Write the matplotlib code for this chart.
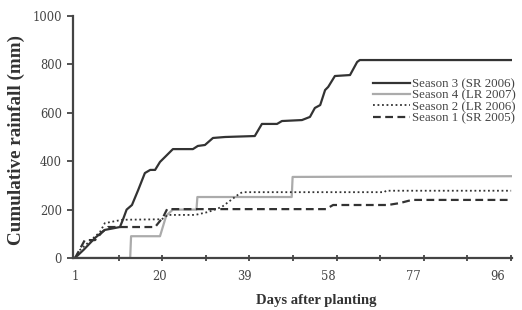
import numpy as np
import matplotlib.pyplot as plt

# breakpoints: (day, cumulative rainfall in mm)
s3_days = [1, 3, 5.5, 7.7, 11.1, 11.8, 12.6, 13.8, 15.2, 16.7, 17.9, 19.0, 20.1, 21.2, 23.0, 27.5,
           28.6, 30.2, 32.0, 34.7, 41.4, 43.0, 46.4, 47.5, 52.0, 53.8, 54.9, 56.1, 57.2,
           57.9, 59.4, 62.8, 64.4, 65.0, 99]
s3_rain = [0, 35, 83, 116, 128, 160, 200, 219, 281, 351, 364, 364, 397, 417, 450, 450,
           463, 467, 496, 500, 504, 554, 554, 566, 570, 583, 620, 632, 694,
           707, 752, 756, 810, 818, 818]

s4_days = [1, 13.4, 13.6, 20.1, 21.5, 23.0, 28.3, 28.5, 49.7, 49.9, 99]
s4_rain = [0, 0, 90, 90, 175, 200, 200, 252, 252, 335, 338]

s2_days = [1, 2.1, 6.6, 7.7, 11.6, 20.5, 21.9, 28.0, 30.9, 34.0, 38.1, 38.8, 70.5, 70.9, 99]
s2_rain = [0, 33, 107, 144, 158, 160, 178, 178, 190, 211, 268, 272, 272, 278, 278]

s1_days = [1, 1.6, 3.2, 5.5, 7.0, 8.4, 19.0, 20.8, 21.7, 57.4, 59.0, 71.3, 74.0, 76.7, 99]
s1_rain = [0, 20, 74, 74, 105, 128, 128, 169, 202, 202, 219, 219, 227, 240, 240]

labels = ['Season 3 (SR 2006)', 'Season 4 (LR 2007)', 'Season 2 (LR 2006)', 'Season 1 (SR 2005)']
x_labels = [1, 20, 39, 58, 77, 96]
y_ticks = [0, 200, 400, 600, 800, 1000]

fig = plt.figure(figsize=(5.22, 3.10), dpi=100)
ax = fig.add_axes([73 / 522, 52 / 310, 439 / 522, 242 / 310])

dark = '#333333'
ax.plot(s3_days, s3_rain, color=dark, lw=1.6, label=labels[0])
ax.plot(s4_days, s4_rain, color='#ababab', lw=1.6, label=labels[1])
ax.plot(s2_days, s2_rain, color=dark, lw=1.3, ls=(0, (1, 1.5)), label=labels[2])
ax.plot(s1_days, s1_rain, color=dark, lw=1.6, ls=(0, (3.5, 2)), label=labels[3])

ax.set_xlim(0.55, 99.2)
ax.set_ylim(0, 1000)

for side in ['top', 'right']:
    ax.spines[side].set_visible(False)
for side in ['left', 'bottom']:
    ax.spines[side].set_color('#444444')
    ax.spines[side].set_linewidth(1.6)

tick_font = {'family': 'DejaVu Serif', 'size': 8.3}
ax.set_xticks(x_labels)
ax.set_xticklabels([str(v) for v in x_labels], fontdict=tick_font, color='#444444')
ax.set_xticks(np.linspace(1, 99, 11), minor=True)
ax.tick_params(axis='x', which='major', length=0, pad=9)
ax.tick_params(axis='x', which='minor', length=4, width=1.3, color='#444444', direction='inout')
ax.set_yticks(y_ticks)
ax.set_yticklabels([str(v) for v in y_ticks], fontdict=tick_font, color='#444444')
ax.tick_params(axis='y', length=4, width=1.3, color='#444444', pad=4)

ax.set_xlabel('Days after planting', family='Liberation Serif', weight='bold',
              size=10.5, color='#333333')
ax.xaxis.set_label_coords(0.553, -0.15)
ax.set_ylabel('Cumulative rainfall (mm)', family='Liberation Serif', weight='bold',
              size=13.8, color='#333333')
ax.yaxis.set_label_coords(-0.11, 0.488)

ax.legend(loc='upper left', bbox_to_anchor=(373 / 522, 1 - 78 / 310),
          bbox_transform=fig.transFigure, frameon=False, borderaxespad=0, borderpad=0,
          handlelength=2.9, handletextpad=0.15, labelspacing=-0.05,
          prop={'family': 'Liberation Serif', 'size': 9.3}, labelcolor='#444444')

fig.savefig('out.png', dpi=100)
